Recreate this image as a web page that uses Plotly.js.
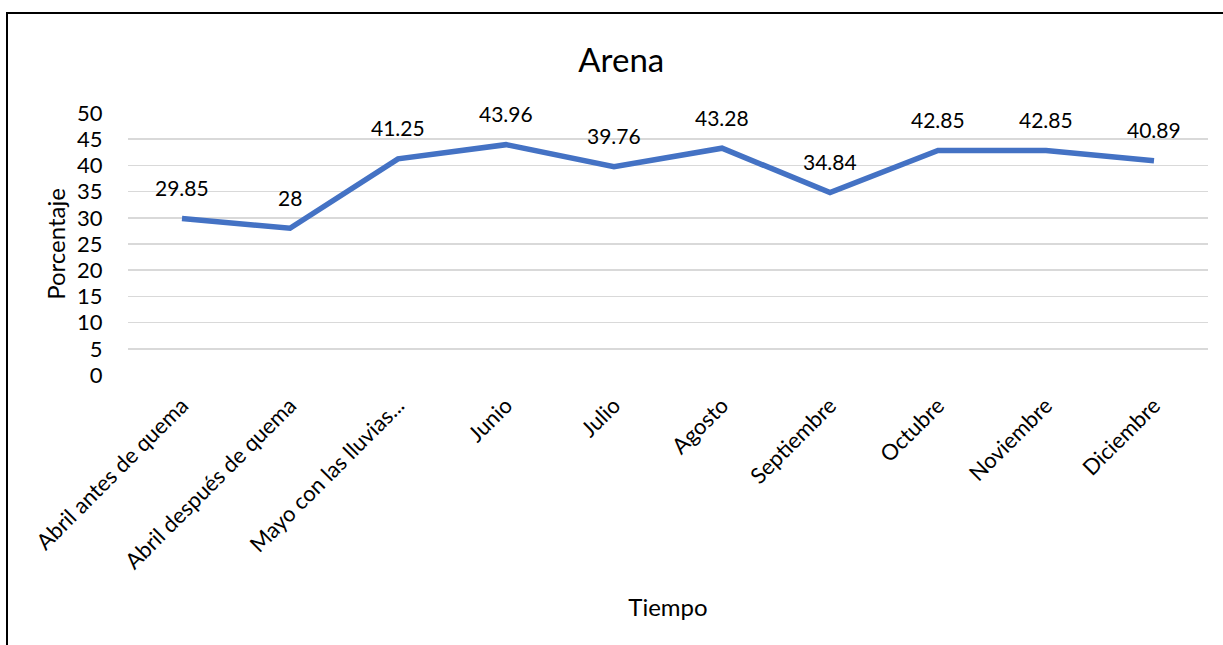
<!DOCTYPE html>
<html>
<head>
<meta charset="utf-8">
<script src="https://cdn.plot.ly/plotly-3.0.1.min.js"></script>
<style>
  html, body { margin: 0; padding: 0; background: #ffffff; overflow: hidden; }
  #wrap { position: relative; width: 1223px; height: 645px; }
  #chart { position: absolute; left: 0; top: 0; width: 1223px; height: 645px; }
  #frame {
    position: absolute; left: 6px; top: 12px; width: 1400px; height: 800px;
    border: 2px solid #000; pointer-events: none;
  }
</style>
</head>
<body>
<div id="wrap">
  <div id="chart"></div>
  <div id="frame"></div>
</div>
<script>
// Arena percentage per sampling period
const categories = [
  "Abril antes de quema",
  "Abril después de quema",
  "Mayo con las lluvias...",
  "Junio",
  "Julio",
  "Agosto",
  "Septiembre",
  "Octubre",
  "Noviembre",
  "Diciembre"
];
const arena = [29.85, 28, 41.25, 43.96, 39.76, 43.28, 34.84, 42.85, 42.85, 40.89];
const yTicks = [0, 5, 10, 15, 20, 25, 30, 35, 40, 45, 50];

const FONT = "Lato, 'Open Sans', sans-serif";

const trace = {
  type: "scatter",
  mode: "lines",
  x: categories,
  y: arena,
  line: { color: "#4472C4", width: 5.5 },
  hoverinfo: "x+y",
  showlegend: false
};

// value labels above each point
const labels = categories.map((c, i) => ({
  x: c,
  y: arena[i],
  xref: "x",
  yref: "y",
  text: String(arena[i]),
  showarrow: false,
  yshift: 31,
  yanchor: "middle",
  font: { family: FONT, size: 21, color: "#000" }
}));

const layout = {
  width: 1223,
  height: 645,
  margin: { l: 128, r: 15, t: 113, b: 270 },
  paper_bgcolor: "rgba(0,0,0,0)",
  plot_bgcolor: "rgba(0,0,0,0)",
  font: { family: FONT, size: 21, color: "#000" },
  title: {
    text: "Arena",
    x: 0.508,
    xanchor: "center",
    y: 0.907,
    yanchor: "middle",
    font: { family: FONT, size: 33, color: "#000" }
  },
  xaxis: {
    type: "category",
    range: [-0.5, categories.length - 0.5],
    tickangle: -45,
    showgrid: false,
    zeroline: false,
    showline: false,
    ticks: "outside",
    ticklen: 8,
    tickcolor: "rgba(0,0,0,0)",
    tickfont: { family: FONT, size: 22, color: "#000" },
    title: {
      text: "Tiempo",
      font: { family: FONT, size: 24, color: "#000" },
      standoff: 26
    },
    automargin: false
  },
  yaxis: {
    range: [0, 50],
    tickvals: yTicks,
    ticktext: yTicks.map(String),
    showgrid: true,
    gridcolor: "#d9d9d9",
    gridwidth: 1.5,
    zeroline: false,
    showline: false,
    ticks: "outside",
    ticklen: 20,
    tickcolor: "rgba(0,0,0,0)",
    tickfont: { family: FONT, size: 22, color: "#000" },
    title: {
      text: "Porcentaje",
      font: { family: FONT, size: 24, color: "#000" },
      standoff: 4
    },
    automargin: false
  },
  annotations: labels
};

Plotly.newPlot("chart", [trace], layout, { staticPlot: true, displayModeBar: false });
</script>
</body>
</html>
